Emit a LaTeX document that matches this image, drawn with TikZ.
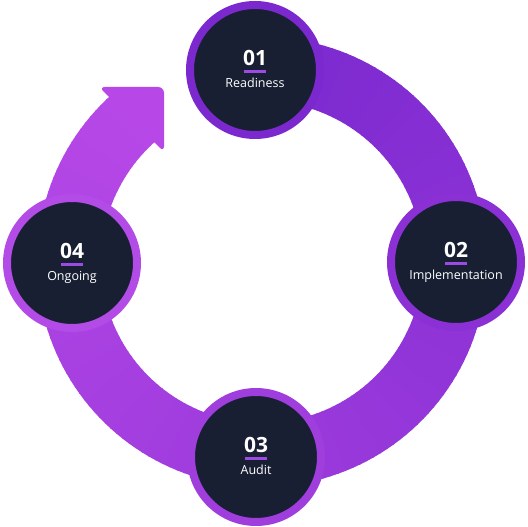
\documentclass[tikz,border=0pt]{standalone}
\usepackage{fontspec}
\setmainfont{Open Sans}
\definecolor{ringA}{HTML}{7A29CF}
\definecolor{ringB}{HTML}{B748E7}
\definecolor{navy}{HTML}{181F33}
\definecolor{lineP}{HTML}{9B4BE4}
\begin{document}
\begin{tikzpicture}[x=1pt,y=1pt,
        stepdisc/.style={circle,fill=navy,draw=#1,line width=8pt,minimum size=130pt,inner sep=0pt},
        stepnum/.style={text=white,anchor=base,font=\bfseries\fontsize{21}{21}\selectfont},
        steplbl/.style={text=white,anchor=base,font=\fontsize{12.5}{13}\selectfont}]

    % 画布大小
    \useasboundingbox (0,0) rectangle (528,527);

    % 渐变圆环:分段填充,从 01 顺时针到箭头
    \foreach \i in {0,...,161} {
        \pgfmathsetmacro{\aa}{94-2*\i}
        \pgfmathsetmacro{\ab}{max(94-2*\i-2.4,-229)}
        \pgfmathsetmacro{\pp}{100*\i/161}
        \colorlet{segcol}{ringB!\pp!ringA}
        \fill[segcol,shift={(262,265)}] (\aa:225) arc[start angle=\aa,end angle=\ab,radius=225]
            -- (\ab:161) arc[start angle=\ab,end angle=\aa,radius=161] -- cycle;
    }

    % 箭头
    \fill[ringB,rounded corners=6pt] (99,440) -- (164,440) -- (164,375) -- cycle;

    % 四个步骤圆
    \foreach \nm/\x/\y/\col/\num/\lbl in {s1/255/457/7B29CE/01/Readiness,
            s2/456/265/8A30D5/02/Implementation, s3/256/70/A03DDD/03/Audit,
            s4/72/264/B34BE6/04/Ongoing} {
        \definecolor{bdcol}{HTML}{\col}
        \node[stepdisc=bdcol] (\nm) at (\x,\y) {};
        \node[stepnum] (\nm-num) at ([yshift=4pt]\nm.center) {\num};
        \draw[lineP,line width=2.5pt] ([xshift=-11pt,yshift=-1.5pt]\nm.center) -- ([xshift=11pt,yshift=-1.5pt]\nm.center); % 下划线
        \node[steplbl] (\nm-lbl) at ([yshift=-18pt]\nm.center) {\lbl};
    }

\end{tikzpicture}
\end{document}
